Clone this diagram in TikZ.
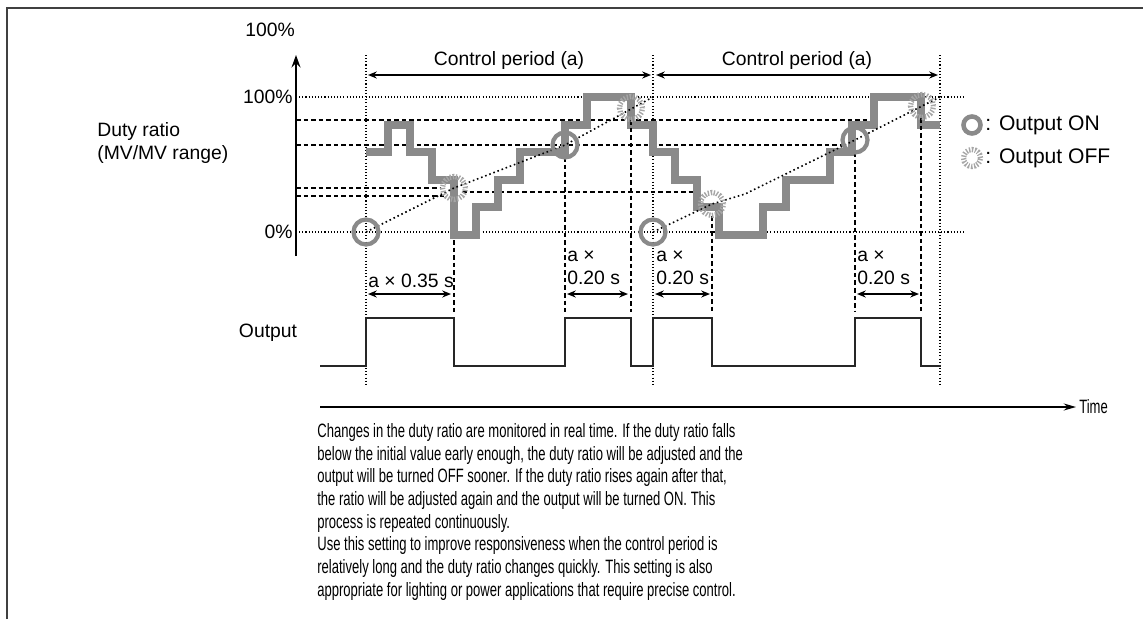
\documentclass[tikz,border=0pt]{standalone}
\usepackage{fontspec}
\setmainfont{Liberation Sans}
\newfontfamily\narrowfont[FakeStretch=0.675]{Liberation Sans}
\usetikzlibrary{arrows.meta}
\definecolor{stairgray}{HTML}{8A8A8A}
\definecolor{offgray}{HTML}{A6A6A6}
\begin{document}
\begin{tikzpicture}[x=0.02cm, y=-0.02cm, >={Stealth[length=7pt,width=5pt]},
    font=\fontsize{11}{13}\selectfont,
    stair/.style={stairgray, line width=4pt},
    grid dot/.style={black, line width=0.6pt, dash pattern=on 0.6pt off 1.2pt},
    level dash/.style={black, line width=1pt, dash pattern=on 2.6pt off 1.7pt},
    ramp/.style={black, line width=0.9pt, dash pattern=on 0.9pt off 1.6pt},
    on mark/.style={stairgray, line width=2.4pt},
    off mark/.style={offgray, line width=3pt, dash pattern=on 0.8pt off 0.9pt},
    wave/.style={black!85, line width=1.4pt},
    span/.style={<->, line width=0.8pt, >={Stealth[length=5pt,width=4pt]}},
    txt/.style={inner sep=0pt}]
  \useasboundingbox (0,0) rectangle (1143,619);
  % frame
  \draw[black!75, line width=0.9pt] (7,619) -- (7,8) -- (1143,8);

  % duty ratio axis
  \coordinate (ybot) at (296,256);
  \coordinate (ytop) at (296,55);
  \draw[->, line width=1.2pt] (ybot) -- (ytop);
  \node[txt] (top100) at (270,30) {100\%};
  \node[txt, anchor=east] (lab100) at (293,97) {100\%};
  \node[txt, anchor=east] (lab0) at (293,232) {0\%};
  \node[txt, anchor=west, align=left] (duty) at (97,143) {Duty ratio\\(MV/MV range)};

  % 0% / 100% grid
  \draw[grid dot] (296,97) -- (965,97);
  \draw[grid dot] (296,232) -- (965,232);

  % period boundaries
  \foreach \px in {366,653,940}
    \draw[grid dot] (\px,55) -- (\px,386);

  % control period arrows
  \coordinate (pa) at (368,75);
  \coordinate (pb) at (651,75);
  \coordinate (pc) at (656,75);
  \coordinate (pd) at (938,75);
  \draw[span, line width=0.9pt] (pa) -- (pb);
  \draw[span, line width=0.9pt] (pc) -- (pd);
  \node[txt] (per1) at (509,61) {Control period (a)};
  \node[txt] (per2) at (797,61) {Control period (a)};

  % dashed levels
  \draw[level dash] (296,120) -- (873,120);
  \draw[level dash] (296,145) -- (843,145);
  \draw[level dash] (296,188) -- (440,188);
  \draw[level dash] (296,196) -- (445,196);
  \draw[level dash] (462,192) -- (700,192);

  % MV staircase
  \draw[stair] (366,152) -| (388,125) -| (410,152) -| (432,180) -| (454,235)
    -| (476,207) -| (498,180) -| (520,152) -| (565,125) -| (587,97)
    -| (631,125) -| (653,152) -| (675,180) -| (697,207) -| (719,235)
    -| (763,207) -| (786,180) -| (830,152) -| (852,125) -| (874,97)
    -| (921,125) -- (940,125);

  % switching instants
  \draw[level dash] (454,240) -- (454,312);
  \draw[level dash] (565,157) -- (565,312);
  \draw[level dash] (631,120) -- (631,312);
  \draw[level dash] (712,216) -- (712,312);
  \draw[level dash] (855,152) -- (855,312);
  \draw[level dash] (921,118) -- (921,312);

  % elapsed-time ramps
  \draw[ramp] (366,232) -- (454,188) -- (565,145) -- (631,109) -- (653,97);
  \draw[ramp] (653,232) -- (712,204) -- (745,194) -- (855,140) -- (922,106) -- (940,97);

  % ON / OFF marks
  \foreach \mx/\my in {366/232, 565/145, 653/232, 855/140}
    \draw[on mark] (\mx,\my) circle (0.25cm);
  \foreach \mx/\my in {454/188, 631/108, 712/204, 922/106}
    \draw[off mark] (\mx,\my) circle (0.23cm);

  % legend
  \draw[on mark, line width=2.6pt] (972,125) circle (0.17cm);
  \draw[off mark] (972,158) circle (0.17cm);
  \node[txt, anchor=west] (legon) at (985,125) {\fontsize{12}{14}\selectfont : Output ON};
  \node[txt, anchor=west] (legoff) at (985,158) {\fontsize{12}{14}\selectfont : Output OFF};

  % ON time spans
  \coordinate (s1a) at (368,294); \coordinate (s1b) at (451,294);
  \coordinate (s2a) at (567,294); \coordinate (s2b) at (628,294);
  \coordinate (s3a) at (655,294); \coordinate (s3b) at (710,294);
  \coordinate (s4a) at (857,294); \coordinate (s4b) at (919,294);
  \draw[span] (s1a) -- (s1b);
  \draw[span] (s2a) -- (s2b);
  \draw[span] (s3a) -- (s3b);
  \draw[span] (s4a) -- (s4b);
  \node[txt, anchor=west] (t1) at (368,281) {a × 0.35 s};
  \node[txt, anchor=west, align=left] (t2) at (567,268) {a ×\\0.20 s};
  \node[txt, anchor=west, align=left] (t3) at (656,268) {a ×\\0.20 s};
  \node[txt, anchor=west, align=left] (t4) at (857,268) {a ×\\0.20 s};

  % output
  \node[txt] (out) at (268,333) {Output};
  \draw[wave] (320,366) -| (366,318) -| (454,366) -| (565,318) -| (631,366)
    -| (653,318) -| (712,366) -| (855,318) -| (921,366) -- (941,366);

  % time axis
  \coordinate (t0) at (320,407);
  \coordinate (t1e) at (1076,407);
  \draw[->, line width=0.9pt, >={Stealth[length=7pt,width=4pt]}] (t0) -- (t1e);
  \node[txt, anchor=west] (time) at (1079,407) {\narrowfont\fontsize{11}{13}\selectfont Time};

  \node[txt, anchor=north west, align=left,
        font=\narrowfont\fontsize{11}{12.9}\selectfont] (note) at (317,423)
    {Changes in the duty ratio are monitored in real time. If the duty ratio falls\\
     below the initial value early enough, the duty ratio will be adjusted and the\\
     output will be turned OFF sooner. If the duty ratio rises again after that,\\
     the ratio will be adjusted again and the output will be turned ON. This\\
     process is repeated continuously.\\
     Use this setting to improve responsiveness when the control period is\\
     relatively long and the duty ratio changes quickly. This setting is also\\
     appropriate for lighting or power applications that require precise control.};
\end{tikzpicture}
\end{document}
